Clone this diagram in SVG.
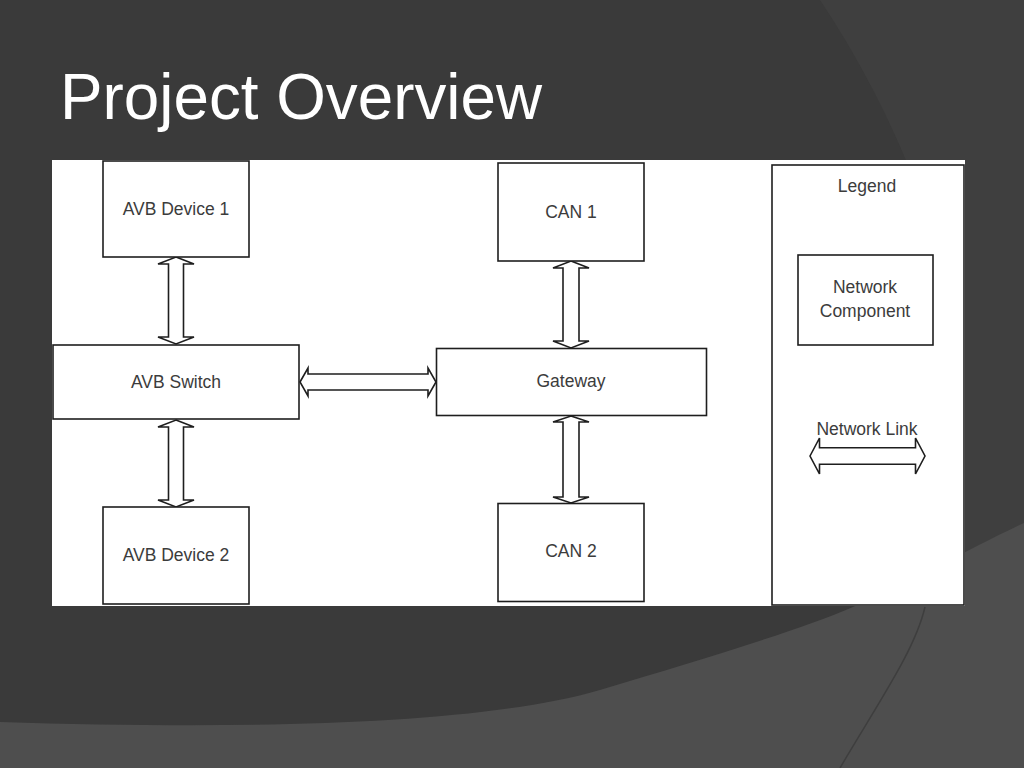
<svg xmlns="http://www.w3.org/2000/svg" width="1024" height="768" viewBox="0 0 1024 768">
<style>
.box{fill:#ffffff;stroke:#1e1e1e;stroke-width:1.6}
.lbl{font-family:"Liberation Sans",Arial,sans-serif;font-size:17.5px;fill:#3c3c3c;text-anchor:middle}
.arr{fill:#ffffff;stroke:#1e1e1e;stroke-width:1.6;stroke-linejoin:miter}
</style>
<g id="background">
<rect x="0" y="0" width="1024" height="768" fill="#3a3a3a"/>
<path d="M820,0 C860,60 890,120 910,170 C940,260 960,400 970,768 L1024,768 L1024,0 Z" fill="#3f3f3f"/>
<path d="M0,722 C250,730 480,725 600,690 C700,660 800,630 853,607 C920,578 970,548 1024,523 L1024,768 L0,768 Z" fill="#4e4e4e"/>
<path d="M840,768 C880,700 915,650 925,607" fill="none" stroke="#3e3e3e" stroke-width="1.5"/>
</g>
<text id="title" x="60" y="119" font-family="'Liberation Sans',Arial,sans-serif" font-size="65" fill="#ffffff" textLength="482" lengthAdjust="spacingAndGlyphs">Project Overview</text>
<rect id="canvas" x="52" y="160" width="913" height="446" fill="#ffffff"/>
<g id="connectors">
<path class="arr" d="M176,257 L194,264 L183.5,264 L183.5,337 L194,337 L176,344 L158,337 L168.5,337 L168.5,264 L158,264 Z"/>
<path class="arr" d="M176,420 L194,427 L183.5,427 L183.5,500 L194,500 L176,507 L158,500 L168.5,500 L168.5,427 L158,427 Z"/>
<path class="arr" d="M571,261 L589,268 L579,268 L579,341 L589,341 L571,348 L553,341 L563,341 L563,268 L553,268 Z"/>
<path class="arr" d="M571,416 L589,422 L579,422 L579,497 L589,497 L571,503 L553,497 L563,497 L563,422 L553,422 Z"/>
<path class="arr" d="M300,382 L308,368 L308,374 L428,374 L428,368 L436,382 L428,396 L428,390 L308,390 L308,396 Z"/>
</g>
<g id="avb-device-1"><rect class="box" x="103" y="161" width="146" height="96"/><text class="lbl" x="176" y="215">AVB Device 1</text></g>
<g id="avb-switch"><rect class="box" x="53" y="345" width="246" height="74"/><text class="lbl" x="176" y="388">AVB Switch</text></g>
<g id="avb-device-2"><rect class="box" x="103" y="507" width="146" height="97"/><text class="lbl" x="176" y="561">AVB Device 2</text></g>
<g id="can-1"><rect class="box" x="498" y="163" width="146" height="98"/><text class="lbl" x="571" y="218">CAN 1</text></g>
<g id="gateway"><rect class="box" x="436.5" y="348.5" width="270" height="67"/><text class="lbl" x="571" y="387">Gateway</text></g>
<g id="can-2"><rect class="box" x="498" y="503.5" width="146" height="98"/><text class="lbl" x="571" y="557">CAN 2</text></g>
<g id="legend">
<rect class="box" x="772" y="165" width="192" height="440"/>
<text class="lbl" x="867" y="192">Legend</text>
<g id="legend-component"><rect class="box" x="798" y="255" width="135" height="90"/><text class="lbl" x="865" y="293">Network</text><text class="lbl" x="865" y="317">Component</text></g>
<g id="legend-link"><text class="lbl" x="867" y="435">Network Link</text>
<path class="arr" d="M810,456 L819.5,438 L819.5,447.7 L915.5,447.7 L915.5,438 L925,456 L915.5,474 L915.5,464.3 L819.5,464.3 L819.5,474 Z"/></g>
</g>
</svg>
